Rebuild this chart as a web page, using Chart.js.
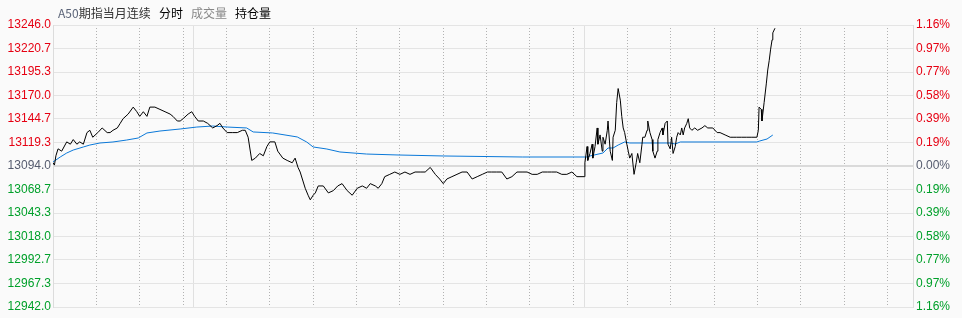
<!DOCTYPE html>
<html>
<head>
<meta charset="utf-8">
<script src="https://cdn.jsdelivr.net/npm/chart.js@4.4.0/dist/chart.umd.min.js"></script>
<style>
html, body { margin: 0; padding: 0; background: #fafafa; overflow: hidden; }
#wrap { position: relative; width: 962px; height: 318px; }
#chart { position: absolute; left: 0; top: 0; }
.tab { position: absolute; top: 5px; font: 12px "Noto Sans CJK SC", sans-serif; line-height: 16px; white-space: nowrap; }
</style>
</head>
<body>
<div id="wrap">
<canvas id="chart" width="962" height="318"></canvas>
<div class="tab" style="left:58px;color:#333"><span style="color:#5b6478">A50</span>期指当月连续</div>
<div class="tab" style="left:159px;color:#000">分时</div>
<div class="tab" style="left:191px;color:#888">成交量</div>
<div class="tab" style="left:235px;color:#000">持仓量</div>
</div>
<script>
'use strict';
// minutes from 17:00 (night session 17:00-05:15, then day session 09:00-16:35)
var sessionEnd = 1190;
var hourMarks = [60, 120, 180, 240, 300, 360, 420, 480, 540, 600, 660, 720, 795, 855, 915, 975, 1035, 1095, 1155];
var sessionMarks = [194, 735];
var prevClose = 13094.0;
var yTickValues = [12942.0, 12967.3, 12992.7, 13018.0, 13043.3, 13068.7, 13094.0, 13119.3, 13144.7, 13170.0, 13195.3, 13220.7, 13246.0];
var pctLabels = ['1.16%', '0.97%', '0.77%', '0.58%', '0.39%', '0.19%', '0.00%', '0.19%', '0.39%', '0.58%', '0.77%', '0.97%', '1.16%'];

var priceMin = [0, 2, 4, 7, 12, 19, 24, 28, 33, 37, 42, 47, 51, 55, 62, 68, 75, 79, 83, 89, 93, 97,
    104, 111, 116, 120, 125, 130, 134, 141, 148, 155, 162, 166, 172, 176, 180, 187, 192, 196,
    201, 208, 214, 221, 227, 231, 235, 241, 248, 255, 262, 266, 270, 275, 280, 286, 291, 296,
    300, 307, 311, 318, 324, 331, 335, 339, 342, 349, 353, 356, 360, 363, 367, 374, 381, 388, 394,
    400, 407, 414, 421, 428, 434, 439, 446, 450, 455, 459, 466, 473, 480, 487, 494,
    501, 508, 515, 522, 529, 535, 540, 545, 552, 559, 566, 573, 580, 587, 594,
    601, 607, 614, 621, 628, 635, 642, 649, 656, 663, 670, 677, 684, 690, 697,
    704, 711, 718, 725, 732, 735, 736, 739, 740, 743, 746, 747, 750, 753, 754, 757, 760, 761, 764, 767, 768,
    771, 774, 775, 778, 780, 782, 785, 787, 789, 791, 794, 796, 798, 801, 804, 807, 809, 812, 815, 816, 819,
    822, 823, 826, 829, 830, 833, 836, 837, 840, 843, 844, 847, 850, 851, 854, 856, 858, 861, 863, 865, 868,
    870, 872, 874, 877, 879, 881, 884, 888, 892, 898, 902, 906, 913, 919, 923, 930, 937, 941, 946,
    953, 960, 967, 974, 976, 977, 980, 981, 984, 987, 989, 991, 993, 995, 996, 999];
var priceVal = [13097.5, 13095, 13105, 13112.5, 13110, 13120, 13117.5, 13122.5, 13117.5, 13120, 13117.5, 13130, 13132.5, 13125, 13130, 13135, 13130, 13130, 13132.5, 13135, 13140, 13145,
    13150, 13157.5, 13152.5, 13147.5, 13152.5, 13147.5, 13157.5, 13157.5, 13155, 13152.5, 13150, 13147.5, 13142.5, 13142.5, 13145, 13150, 13152.5, 13147.5,
    13142.5, 13142.5, 13140, 13135, 13137.5, 13140, 13135, 13130, 13130, 13130, 13132.5, 13132.5, 13125, 13100, 13102.5, 13107.5, 13105, 13115,
    13120, 13120, 13110, 13102.5, 13100, 13097.5, 13102.5, 13092.5, 13087.5, 13070, 13062.5, 13057.5, 13062.5, 13065, 13072.5, 13072.5, 13065, 13067.5, 13072.5,
    13075, 13067.5, 13062.5, 13070, 13072.5, 13070, 13075, 13072.5, 13070, 13075, 13082.5, 13085, 13087.5, 13085, 13087.5, 13085,
    13087.5, 13087.5, 13087.5, 13092.5, 13085, 13080, 13075, 13080, 13082.5, 13085, 13087.5, 13087.5, 13080, 13082.5, 13085,
    13087.5, 13087.5, 13087.5, 13087.5, 13080, 13082.5, 13087.5, 13087.5, 13087.5, 13085, 13085, 13087.5, 13087.5, 13087.5, 13087.5,
    13085, 13085, 13087.5, 13082.5, 13082.5, 13082.5, 13097.5, 13115, 13100, 13107.5, 13117.5, 13102.5, 13115, 13135, 13117.5, 13127.5, 13110, 13125, 13117.5, 13132.5, 13142.5,
    13110, 13100, 13125, 13132.5, 13162.5, 13177.5, 13165, 13147.5, 13135, 13130, 13117.5, 13110, 13102.5, 13107.5, 13085, 13097.5, 13107.5, 13097.5, 13117.5, 13125, 13125,
    13132.5, 13142.5, 13130, 13122.5, 13110, 13102.5, 13110, 13122.5, 13130, 13135, 13127.5, 13140, 13142.5, 13117.5, 13112.5, 13125, 13107.5, 13115, 13125, 13130, 13127.5,
    13135, 13127.5, 13135, 13140, 13145, 13135, 13132.5, 13135, 13132.5, 13135, 13137.5, 13135, 13135, 13130, 13130, 13127.5, 13125, 13125, 13125,
    13125, 13125, 13125, 13125, 13132.5, 13157.5, 13155, 13142.5, 13162.5, 13182.5, 13197.5, 13207.5, 13220, 13230, 13237.5, 13242.5];

var avgMin = [0, 10, 19, 28, 42, 51, 65, 83, 102, 118, 130, 148, 176, 199, 221, 241, 268, 277, 304, 338, 351, 360,
    379, 397, 434, 476, 540, 650, 739, 743, 761, 768, 775, 782, 791, 798, 854, 861, 868, 974, 978, 988, 996];
var avgVal = [13098.3, 13103.7, 13108.0, 13111.2, 13114.5, 13116.6, 13118.8, 13119.9, 13122.0, 13124.2, 13129.6, 13131.7, 13133.9, 13136.0, 13137.1, 13136.0, 13135.0, 13130.7, 13129.6, 13125.3, 13119.9, 13114.5,
    13112.3, 13109.1, 13106.9, 13105.9, 13104.8, 13103.7, 13103.7, 13104.8, 13108.0, 13113.4, 13113.4, 13116.6, 13119.9, 13118.8, 13118.8, 13117.7, 13119.9, 13119.9, 13121.0, 13123.1, 13127.4];

var upColor = '#e60012';
var downColor = '#00a02a';
var flatColor = '#555b6e';

function toPoints(xs, ys) {
    var pts = [];
    for (var i = 0; i < xs.length; i++) {
        pts.push({ x: xs[i], y: ys[i] });
    }
    return pts;
}

function tickColor(ctx) {
    var v = ctx.tick.value;
    if (v > prevClose + 0.01) return upColor;
    if (v < prevClose - 0.01) return downColor;
    return flatColor;
}

function setYTicks(scale) {
    scale.ticks = yTickValues.map(function (v) { return { value: v }; });
}

var labelFont = { family: 'Arial, "Liberation Sans", sans-serif', size: 12 };

var ctx = document.getElementById('chart');
var myChart = new Chart(ctx, {
    type: 'line',
    data: {
        datasets: [{
            label: 'price',
            data: toPoints(priceMin, priceVal),
            borderColor: '#000000',
            borderWidth: 1,
            pointRadius: 0,
            tension: 0
        }, {
            label: 'avg',
            data: toPoints(avgMin, avgVal),
            borderColor: '#0a78d8',
            borderWidth: 1,
            pointRadius: 0,
            tension: 0
        }]
    },
    options: {
        responsive: false,
        animation: false,
        layout: { padding: { top: 25, bottom: 11, left: 0, right: 0 } },
        plugins: { legend: { display: false }, tooltip: { enabled: false } },
        scales: {
            x: {
                type: 'linear',
                min: 0,
                max: sessionEnd,
                afterBuildTicks: function (s) { s.ticks = hourMarks.map(function (m) { return { value: m }; }); },
                afterFit: function (s) { s.height = 0; },
                ticks: { display: false },
                grid: { color: '#b2b2b2', drawTicks: false },
                border: { display: false, dash: [1, 2] }
            },
            x2: {
                type: 'linear',
                position: 'bottom',
                min: 0,
                max: sessionEnd,
                afterBuildTicks: function (s) { s.ticks = sessionMarks.map(function (m) { return { value: m }; }); },
                afterFit: function (s) { s.height = 0; },
                ticks: { display: false },
                grid: { color: '#e0e0e0', drawTicks: false },
                border: { display: false }
            },
            y: {
                type: 'linear',
                position: 'left',
                min: 12942,
                max: 13246,
                afterBuildTicks: setYTicks,
                afterFit: function (s) { s.width = 53; },
                ticks: {
                    padding: 2,
                    font: labelFont,
                    color: tickColor,
                    callback: function (value) { return value.toFixed(1); }
                },
                grid: {
                    drawTicks: false,
                    color: function (c) { return c.tick && Math.abs(c.tick.value - prevClose) < 0.01 ? '#dadada' : '#e4e4e4'; },
                    lineWidth: function (c) { return c.tick && Math.abs(c.tick.value - prevClose) < 0.01 ? 2 : 1; }
                },
                border: { color: '#dcdcdc' }
            },
            y2: {
                type: 'linear',
                position: 'right',
                min: 12942,
                max: 13246,
                afterBuildTicks: setYTicks,
                afterFit: function (s) { s.width = 49; },
                ticks: {
                    padding: 3,
                    font: labelFont,
                    color: tickColor,
                    callback: function (value, index) { return pctLabels[index]; }
                },
                grid: { display: false, drawTicks: false },
                border: { color: '#dcdcdc' }
            }
        }
    }
});
</script>
</body>
</html>
